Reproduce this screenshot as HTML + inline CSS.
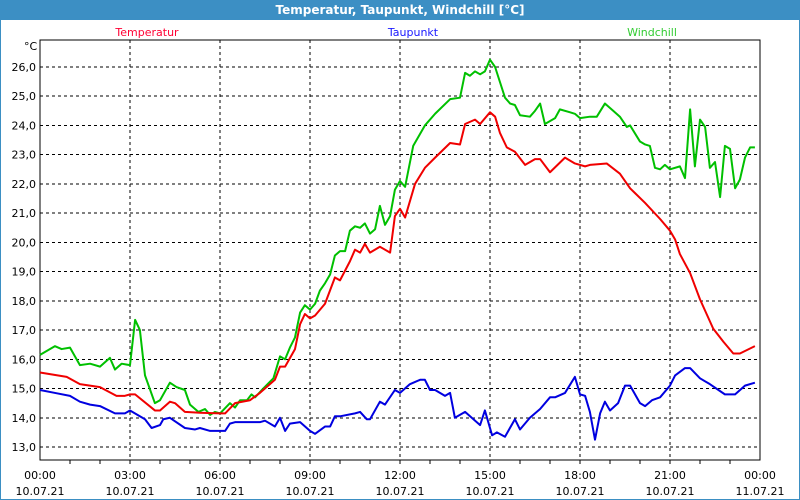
<!DOCTYPE html>
<html><head><meta charset="utf-8"><style>
body{margin:0;width:800px;height:500px;overflow:hidden;background:#fff;font-family:"DejaVu Sans","Liberation Sans",sans-serif}
#win{position:absolute;left:0;top:0;width:800px;height:500px;box-sizing:border-box;border:1px solid #3b8fc3;border-top:none;border-left-width:1px}
#title{position:absolute;left:0;top:0;width:800px;height:20px;background:#3c8fc4;color:#fff;font-weight:bold;font-size:12px;text-align:center;line-height:20px}
svg{position:absolute;left:0;top:0}
svg text{font-family:"DejaVu Sans","Liberation Sans",sans-serif;font-size:11px}
</style></head><body>
<div id="win"></div>
<div id="title">Temperatur, Taupunkt, Windchill [°C]</div>
<svg id="chart" width="800" height="500"></svg>
<script>
const yTicks=[13,14,15,16,17,18,19,20,21,22,23,24,25,26];
const xTickHours=[0,3,6,9,12,15,18,21,24];
const xTickTimes=["00:00","03:00","06:00","09:00","12:00","15:00","18:00","21:00","00:00"];
const xTickDates=["10.07.21","10.07.21","10.07.21","10.07.21","10.07.21","10.07.21","10.07.21","10.07.21","11.07.21"];
const tempHours=[0,0.89,1.33,2,2.55,2.83,3,3.17,3.83,4,4.33,4.5,4.83,5.33,6,6.17,6.5,7,7.33,7.83,8,8.17,8.5,8.67,8.83,9,9.17,9.5,9.83,10,10.33,10.5,10.67,10.83,11,11.33,11.67,11.83,12,12.17,12.5,12.83,13.17,13.67,14,14.17,14.5,14.67,15,15.17,15.33,15.56,15.83,16.17,16.5,16.67,17,17.5,17.83,18.17,18.33,18.89,19.33,19.67,20.17,20.67,21,21.17,21.33,21.67,22,22.44,22.78,23.11,23.33,23.83];
const tempValues=[15.55,15.4,15.15,15.05,14.75,14.75,14.8,14.8,14.25,14.25,14.55,14.5,14.2,14.17,14.15,14.15,14.5,14.6,14.85,15.3,15.75,15.75,16.35,17.2,17.55,17.4,17.5,17.9,18.8,18.7,19.35,19.75,19.65,19.95,19.65,19.85,19.65,20.9,21.15,20.85,22.0,22.55,22.9,23.4,23.35,24.05,24.2,24.05,24.45,24.3,23.75,23.25,23.1,22.65,22.85,22.85,22.4,22.9,22.7,22.6,22.65,22.7,22.35,21.85,21.35,20.8,20.4,20.1,19.6,18.95,18.05,17.05,16.6,16.2,16.2,16.45];
const dewHours=[0,0.5,1,1.33,1.67,2,2.5,2.83,3,3.5,3.72,4,4.11,4.33,4.83,5.17,5.33,5.67,6.17,6.33,6.5,6.67,7.33,7.5,7.83,8,8.17,8.33,8.67,9,9.17,9.5,9.67,9.83,10,10.5,10.67,10.89,11,11.33,11.5,11.83,12,12.33,12.67,12.83,13,13.17,13.5,13.67,13.83,14.17,14.67,14.83,15.07,15.23,15.5,15.83,16,16.33,16.67,17,17.17,17.5,17.83,18,18.17,18.33,18.5,18.67,18.83,19,19.27,19.5,19.67,20,20.17,20.4,20.67,21,21.17,21.5,21.67,22,22.33,22.83,23.17,23.5,23.83];
const dewValues=[14.95,14.85,14.75,14.55,14.45,14.4,14.15,14.15,14.25,13.95,13.65,13.75,13.95,14.0,13.65,13.6,13.65,13.55,13.55,13.8,13.85,13.85,13.85,13.9,13.7,14.0,13.55,13.8,13.85,13.55,13.45,13.7,13.7,14.05,14.05,14.15,14.2,13.95,13.95,14.55,14.45,14.95,14.85,15.15,15.3,15.3,14.95,14.95,14.75,14.85,14.0,14.2,13.75,14.25,13.4,13.5,13.35,13.95,13.6,14.0,14.3,14.7,14.7,14.85,15.4,14.8,14.75,14.2,13.25,14.15,14.55,14.25,14.5,15.1,15.1,14.5,14.4,14.6,14.7,15.1,15.45,15.7,15.7,15.35,15.15,14.8,14.8,15.1,15.2];
const windHours=[0,0.5,0.72,1,1.33,1.67,2,2.33,2.5,2.72,3,3.17,3.33,3.5,3.83,4,4.33,4.55,4.83,5,5.28,5.5,5.67,5.83,6,6.33,6.5,6.67,6.9,7.05,7.17,7.44,7.78,8,8.17,8.33,8.5,8.67,8.83,9,9.17,9.33,9.5,9.67,9.83,10,10.17,10.33,10.5,10.67,10.83,11,11.17,11.33,11.5,11.67,11.83,12,12.17,12.44,12.83,13.17,13.67,14,14.17,14.33,14.5,14.67,14.83,15,15.17,15.5,15.67,15.83,16,16.33,16.5,16.67,16.83,17.17,17.33,17.67,17.83,18,18.33,18.56,18.83,19.11,19.33,19.56,19.67,20,20.17,20.33,20.5,20.67,20.83,21,21.33,21.5,21.67,21.83,22,22.17,22.33,22.5,22.67,22.83,23,23.17,23.33,23.5,23.67,23.83];
const windValues=[16.15,16.45,16.35,16.4,15.8,15.85,15.75,16.05,15.65,15.85,15.8,17.35,17.0,15.45,14.5,14.6,15.2,15.05,14.95,14.45,14.2,14.3,14.1,14.2,14.15,14.5,14.35,14.6,14.6,14.8,14.7,15.0,15.35,16.1,16.0,16.4,16.75,17.6,17.85,17.7,17.9,18.35,18.6,18.9,19.55,19.7,19.7,20.4,20.55,20.5,20.65,20.3,20.45,21.25,20.6,20.9,21.8,22.1,21.9,23.3,24.0,24.4,24.9,24.95,25.8,25.7,25.85,25.75,25.85,26.25,26.0,24.95,24.75,24.7,24.35,24.3,24.5,24.75,24.05,24.25,24.55,24.45,24.4,24.25,24.3,24.3,24.75,24.5,24.3,23.95,24.0,23.45,23.35,23.3,22.55,22.5,22.65,22.5,22.6,22.2,24.55,22.6,24.2,23.95,22.55,22.75,21.55,23.3,23.2,21.85,22.15,22.9,23.25,23.25];

const L=40,R=760,T=40,B=460;
const xs=h=>L+h*(R-L)/24;
const ys=v=>67+(26-v)*(447-67)/13;
const svg=document.getElementById('chart');
const NS='http://www.w3.org/2000/svg';
function mk(tag,attrs,txt){const e=document.createElementNS(NS,tag);for(const k in attrs)e.setAttribute(k,attrs[k]);if(txt!==undefined)e.textContent=txt;svg.appendChild(e);return e;}
// grid
yTicks.forEach(v=>{const g=mk('line',{x1:L,x2:R,y1:ys(v),y2:ys(v),stroke:'#000','stroke-dasharray':'3,3','stroke-width':1,'shape-rendering':'crispEdges'});


const t=mk('text',{x:36,y:ys(v)+4,'text-anchor':'end',fill:'#000'},v.toFixed(1).replace('.',','));

});
xTickHours.forEach((h,i)=>{if(h>0&&h<24){const g=mk('line',{x1:xs(h),x2:xs(h),y1:T,y2:B,stroke:'#000','stroke-dasharray':'3,3','stroke-width':1,'shape-rendering':'crispEdges'});

}
const t1=mk('text',{x:xs(h),y:479,'text-anchor':'middle',fill:'#000'},xTickTimes[i]);


const t2=mk('text',{x:xs(h),y:495,'text-anchor':'middle',fill:'#000'},xTickDates[i]);

});
for(let h=1;h<24;h++){const tk=mk('line',{x1:xs(h),x2:xs(h),y1:B,y2:B+4,stroke:'#000','shape-rendering':'crispEdges'});

}
const frame=mk('rect',{x:L,y:T,width:R-L,height:B-T,fill:'none',stroke:'#000','shape-rendering':'crispEdges'});


const unit=mk('text',{x:24,y:50,fill:'#000'},'°C');


function series(hs,vs,color,name){const p=mk('polyline',{points:hs.map((h,i)=>xs(h)+','+ys(vs[i])).join(' '),fill:'none',stroke:color,'stroke-width':2,'stroke-linejoin':'round'});

}
series(dewHours,dewValues,'#0000e0','taupunkt-line');
series(windHours,windValues,'#00c000','windchill-line');
series(tempHours,tempValues,'#f00000','temperatur-line');
const l1=mk('text',{x:147,y:36,'text-anchor':'middle',fill:'#ff0033'},'Temperatur');


const l2=mk('text',{x:413,y:36,'text-anchor':'middle',fill:'#1a1aff'},'Taupunkt');


const l3=mk('text',{x:652,y:36,'text-anchor':'middle',fill:'#33cc33'},'Windchill');


</script>
</body></html>
